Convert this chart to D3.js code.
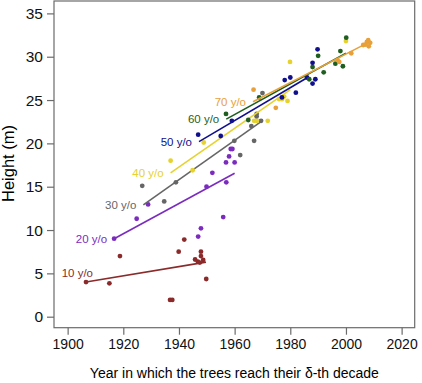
<!DOCTYPE html>
<html lang="en">
<head>
	<meta charset="utf-8">
	<script src="https://cdn.jsdelivr.net/npm/d3@7"></script>
	<style>
		body{ margin:0; background:white; }
		text{ font-family: Arial, "Liberation Sans", sans-serif; }
	</style>
</head>
<body>
	<script>
		// decades (age of the trees) and their colours
		var ages = ["10 y/o", "20 y/o", "30 y/o", "40 y/o", "50 y/o", "60 y/o", "70 y/o"];
		var colors = ["#8b2a2a", "#7b2cbf", "#666666", "#e6d22e", "#10108f", "#1e5e1e", "#e8a13a"];

		// year reached / height (m), one pair of arrays per decade
		var year10 = [1906.6, 1915, 1918.8, 1936.8, 1937.6, 1939.9, 1941.9, 1945.8, 1946.8, 1947.5, 1947.9, 1947.9, 1948.7, 1949.8];
		var height10 = [4.0, 3.85, 7.0, 1.93, 1.93, 7.5, 8.9, 6.6, 6.35, 6.25, 7.5, 7.0, 6.55, 4.35];

		var year20 = [1916.7, 1924.8, 1928.9, 1946.9, 1947.9, 1949.9, 1952, 1955.9, 1957, 1956.9, 1958, 1958.6, 1959.2, 1960];
		var height20 = [9.0, 11.3, 12.95, 9.25, 10.2, 15.0, 16.6, 11.5, 15.5, 17.8, 18.5, 19.35, 19.35, 17.8];

		var year30 = [1926.8, 1934.7, 1938.9, 1959.9, 1962, 1967, 1966, 1967.9, 1967.9, 1969.5, 1970];
		var height30 = [15.1, 13.3, 15.5, 20.3, 18.65, 20.3, 22.0, 23.1, 23.4, 22.6, 25.8];

		var year40 = [1937, 1944.9, 1948.9, 1967, 1968, 1971.9, 1976, 1977, 1977.8, 1979, 1979.9, 2000];
		var height40 = [18.0, 16.9, 20.1, 22.6, 22.6, 22.6, 25.1, 25.1, 25.4, 24.9, 29.4, 31.8];

		var year50 = [1946.9, 1955, 1959, 1977, 1978, 1980, 1982, 1986, 1988, 1988, 1989, 1989.8];
		var height50 = [21.0, 20.85, 22.6, 25.3, 27.3, 27.6, 25.85, 27.6, 26.9, 29.3, 27.4, 30.85];

		var year60 = [1956.9, 1964.9, 1968.8, 1986.8, 1988, 1990, 1992, 1996.2, 1998, 1998.9, 2000.1];
		var height60 = [23.4, 22.7, 25.3, 27.4, 28.8, 30.1, 28.2, 29.2, 30.65, 28.9, 32.2];

		var year70 = [1966.8, 1974.8, 1997, 1997.6, 2001.9, 2006.2, 2007.5, 2008, 2007, 2008.2, 2008.7];
		var height70 = [26.2, 24.1, 29.6, 29.4, 30.4, 31.35, 31.7, 31.9, 31.4, 31.2, 31.6];

		// fitted lines: [start year, start height, end year, end height]
		var fits = [
			[1906.6, 4.0, 1949.7, 6.3],
			[1916.7, 9.0, 1960, 16.55],
			[1927.2, 12.9, 1969.5, 22.5],
			[1937, 16.6, 1980, 26.2],
			[1947.2, 20.2, 1986.2, 27.6],
			[1957, 22.8, 2000, 30.4],
			[1966.6, 24.8, 2007.8, 31.6]
		];

		var xTicks = [1900, 1920, 1940, 1960, 1980, 2000, 2020];
		var yTicks = [0, 5, 10, 15, 20, 25, 30, 35];

		var years = [year10, year20, year30, year40, year50, year60, year70];
		var heights = [height10, height20, height30, height40, height50, height60, height70];

		var width = 422, height = 383;
		var mLeft = 54, mRight = 414.7, mTop = 1, mBottom = 327.7;

		var x = d3.scaleLinear().domain([1895.1, 2024.7]).range([mLeft, mRight]);
		var y = d3.scaleLinear().domain([-1.27, 36.43]).range([mBottom, mTop]);

		var svg = d3.select("body").append("svg")
			.attr("width", width)
			.attr("height", height);

		// frame
		svg.append("rect")
			.attr("x", mLeft).attr("y", mTop)
			.attr("width", mRight - mLeft).attr("height", mBottom - mTop)
			.attr("fill", "none")
			.attr("stroke", "#6b6b6b")
			.attr("stroke-width", 1.2);

		var xAxis = svg.append("g")
			.attr("transform", "translate(0," + mBottom + ")")
			.call(d3.axisBottom(x).tickValues(xTicks).tickSize(7).tickPadding(4).tickFormat(d3.format("d")));
		var yAxis = svg.append("g")
			.attr("transform", "translate(" + mLeft + ",0)")
			.call(d3.axisLeft(y).tickValues(yTicks).tickSize(7).tickPadding(4));

		[xAxis, yAxis].forEach(function(g){
			g.select(".domain").remove();
			g.selectAll(".tick line").attr("stroke", "#6b6b6b").attr("stroke-width", 1.2);
			g.selectAll(".tick text").attr("fill", "#111")
				.style("font-family", "Arial, 'Liberation Sans', sans-serif");
		});
		xAxis.selectAll(".tick text").style("font-size", "14px");
		yAxis.selectAll(".tick text").style("font-size", "15.5px");

		// axis titles
		svg.append("text")
			.attr("x", (mLeft + mRight) / 2).attr("y", 377.5)
			.attr("text-anchor", "middle")
			.style("font-size", "14px")
			.text("Year in which the trees reach their δ-th decade");
		svg.append("text")
			.attr("transform", "translate(13.5,163.5) rotate(-90)")
			.attr("text-anchor", "middle")
			.style("font-size", "16.5px")
			.text("Height (m)");

		var plot = svg.append("g");

		ages.forEach(function(age, i){
			var pts = years[i].map(function(yr, j){ return [yr, heights[i][j]]; });
			plot.append("g").selectAll("circle")
				.data(pts).enter()
				.append("circle")
				.attr("cx", function(d){ return x(d[0]); })
				.attr("cy", function(d){ return y(d[1]); })
				.attr("r", 2.4)
				.attr("fill", colors[i]);

			var f = fits[i];
			plot.append("line")
				.attr("x1", x(f[0])).attr("y1", y(f[1]))
				.attr("x2", x(f[2])).attr("y2", y(f[3]))
				.attr("stroke", colors[i])
				.attr("stroke-width", 1.6);

			// labels sit left of the line start; the first one sits above it
			var lx = i == 0 ? x(f[0]) + 7 : x(f[0]) - 7;
			var ly = i == 0 ? y(f[1]) - 9 : y(f[1]);
			plot.append("text")
				.attr("x", lx)
				.attr("y", ly)
				.attr("dy", "0.35em")
				.attr("text-anchor", "end")
				.attr("fill", colors[i])
				.style("font-size", "11.5px")
				.text(age);
		});
	</script>
</body>
</html>
